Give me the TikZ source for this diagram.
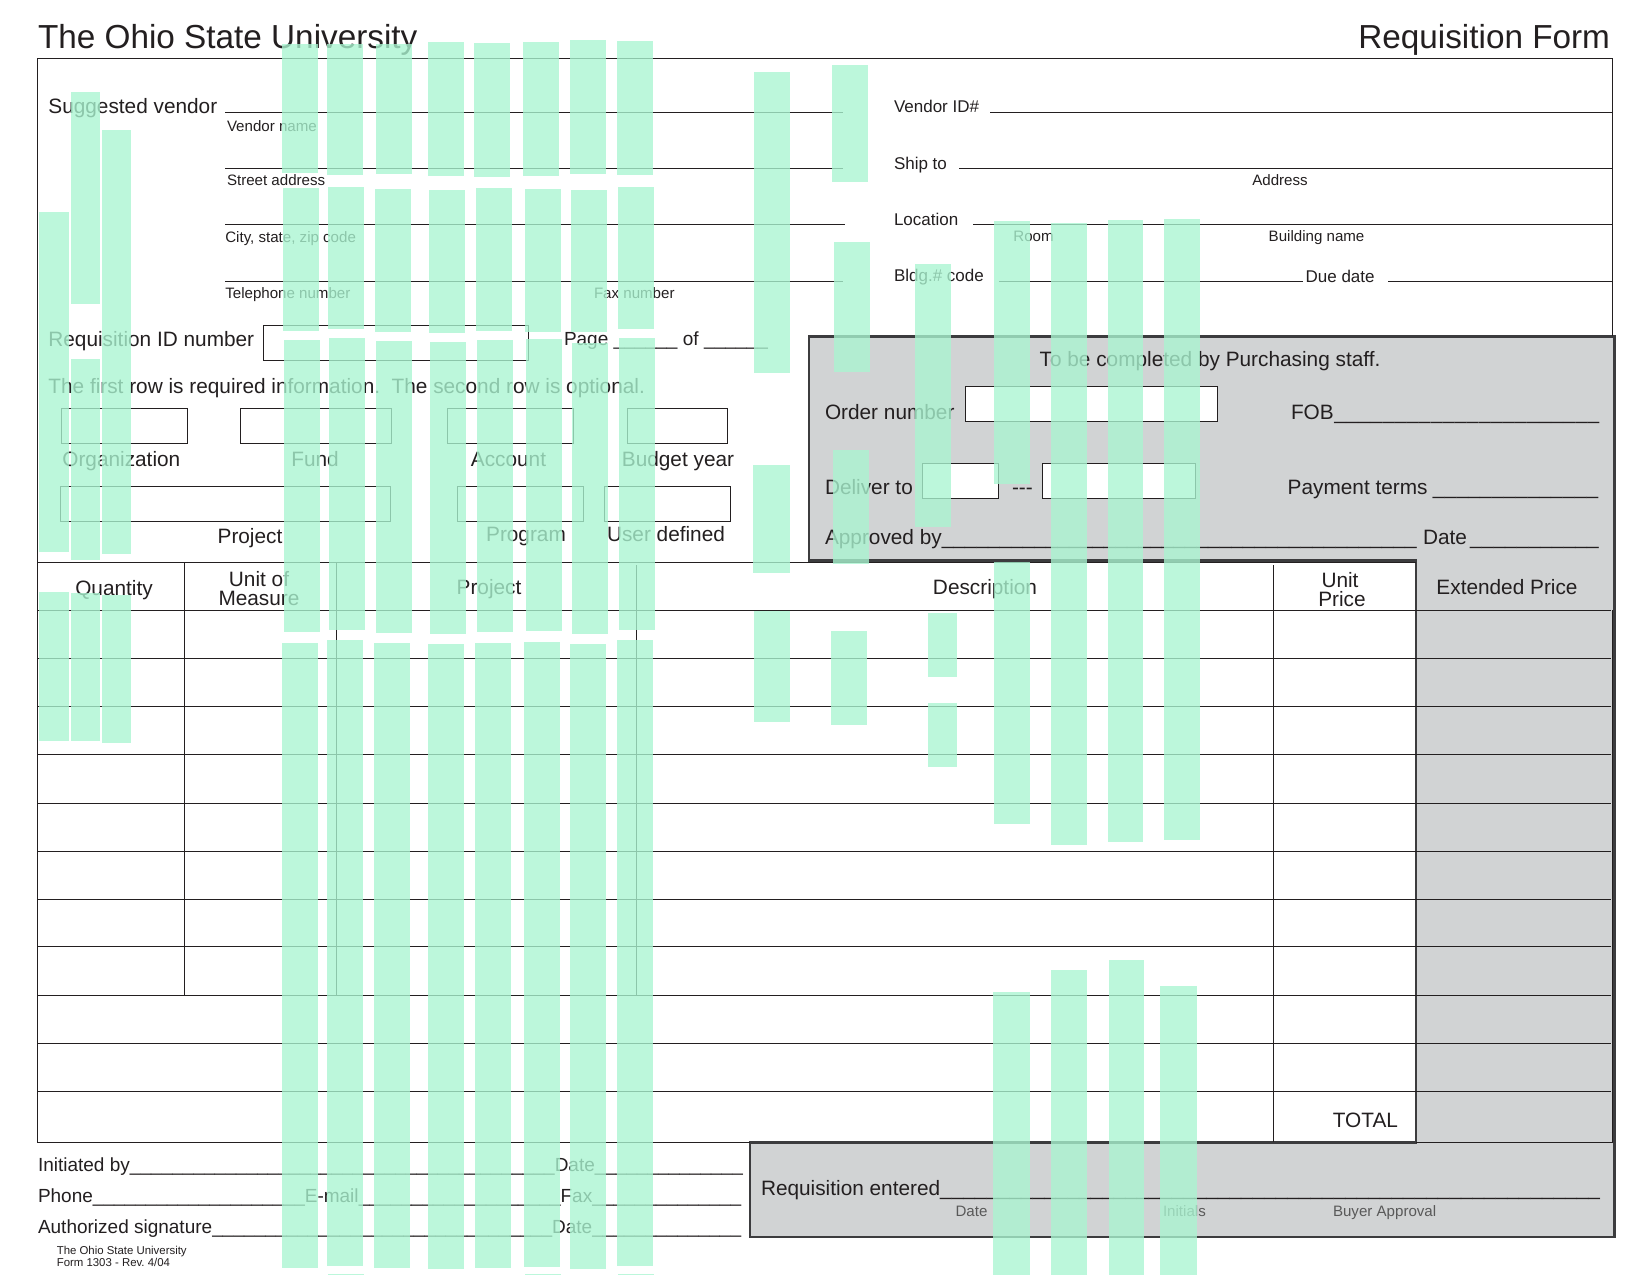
\documentclass[tikz,border=0pt]{standalone}
\usepackage{fontspec}
\setmainfont{Liberation Sans}
\frenchspacing
\definecolor{ink}{HTML}{231F20}
\definecolor{edge}{HTML}{3C3C3E}
\definecolor{panel}{HTML}{D1D3D4}
\definecolor{mint}{HTML}{AAF5D1}
\newcommand\us[1]{\xleaders\hbox{\_}\hskip#1pt\relax\null}
\tikzset{
  lab/.style={anchor=base west,inner sep=0pt,outer sep=0pt,text=ink,font=\fontsize{20.8}{24}\selectfont},
  labc/.style={lab,anchor=base},
  labe/.style={lab,anchor=base east},
  sig/.style={lab,font=\fontsize{19}{22}\selectfont},
  med/.style={lab,font=\fontsize{17}{20}\selectfont},
  small/.style={lab,font=\fontsize{15.1}{18}\selectfont},
  smallc/.style={small,anchor=base},
  faint/.style={small,text=black!65},
  foot/.style={lab,font=\fontsize{11.4}{13}\selectfont},
  titletext/.style={lab,font=\fontsize{33.3}{38}\selectfont},
  rule/.style={draw=ink,line width=1pt},
  thinrule/.style={draw=ink,line width=0.6pt},
  entry/.style={draw=ink,line width=0.9pt,fill=white},
  heavy/.style={draw=edge,line width=2.4pt},
  stripe/.style={fill=mint,fill opacity=0.78,draw=none}
}
\begin{document}
\begin{tikzpicture}[x=1pt,y=-1pt]
\useasboundingbox (0,0) rectangle (1649,1275);
\fill[white] (0,0) rectangle (1649,1275);
% grey panels
\fill[panel] (808.7,336.3) rectangle (1614.3,560.5);
\fill[panel] (1416,560.5) rectangle (1614.3,1142);
\fill[panel] (750,1142) rectangle (1614.3,1237);
% heavy outlines
\draw[heavy] (808.7,560.5) -- (808.7,336.3) -- (1614.3,336.3) -- (1614.3,1237) -- (750,1237) -- (750,1142.3) -- (1416,1142.3) -- (1416,560.5) -- cycle;
% outer frame
\draw[rule] (1612.5,336) -- (1612.5,58.4) -- (37.5,58.4) -- (37.5,1142.3) -- (750,1142.3);
\draw[rule] (1416,1142.3) -- (1612.5,1142.3);
\draw[rule] (1612.5,610) -- (1612.5,1142.3);
% vendor lines
\foreach \yy/\xe in {112/843.4,168/843.4,224.5/845,281/843.4} \draw[rule] (225,\yy) -- (\xe,\yy);
\draw[rule] (990,112) -- (1612.5,112);
\draw[rule] (959,168) -- (1612.5,168);
\draw[rule] (973,224.5) -- (1612.5,224.5);
\draw[rule] (999,281) -- (1303,281);
\draw[rule] (1388,281) -- (1612.5,281);
% entry boxes
\foreach \xa/\ya/\xb/\yb in {263.7/325/528/360.5,
  61.5/408.5/187.4/443,240.5/408.5/391.6/443,447.4/408.5/573/443,627/408.5/727/443,
  60.5/486.5/390.5/521.6,457.4/486.5/583.7/521.6,604.7/486.5/730.5/521.6,
  965.5/386.5/1217/421.6,922.4/463/998.7/498.4,1042/463/1195/498.4}
  \draw[entry] (\xa,\ya) rectangle (\xb,\yb);
% table
\draw[rule] (37.5,562.5) -- (1416,562.5);
\foreach \yy in {610,658,706,754,803,851,899,946,995,1043,1091} \draw[rule] (37.5,\yy) -- (1611,\yy);
\draw[thinrule] (184.7,562.4) -- (184.7,995);
\draw[thinrule] (336,563) -- (336,995);
\draw[thinrule] (636,565) -- (636,995);
\draw[thinrule] (1273,565) -- (1273,1142);
% titles
\node[titletext] at (38,48.5) {The Ohio State University};
\node[titletext,anchor=base east] at (1610,48.5) {Requisition Form};
% vendor block
\node[lab] at (48.4,113) {Suggested vendor};
\node[small] at (227,131.4) {Vendor name};
\node[small] at (227,185.7) {Street address};
\node[small] at (225.3,242) {City, state, zip code};
\node[small] at (225.3,298.4) {Telephone number};
\node[small] at (594,298.4) {Fax number};
\node[med] at (894,112) {Vendor ID\#};
\node[med] at (894,169.4) {Ship to};
\node[smallc] at (1280,185.7) {Address};
\node[med] at (894,225.7) {Location};
\node[small] at (1013.4,241) {Room};
\node[small] at (1268.7,241) {Building name};
\node[med] at (894,281) {Bldg.\# code};
\node[med] at (1305.6,282.5) {Due date};
% requisition block
\node[lab] at (48.4,346.5) {Requisition ID number};
\node[sig] at (564,345) {Page \us{64} of \us{64}};
\node[lab] at (48.4,393.5) {The first row is required information.\ \ The second row is optional.};
\node[labc] at (121.3,466.5) {Organization};
\node[labc] at (315,466.5) {Fund};
\node[labc] at (508.5,466.5) {Account};
\node[labc] at (678,466.5) {Budget year};
\node[labc] at (250,543) {Project};
\node[labc] at (526,541) {Program};
\node[labc] at (666,541) {User defined};
% table heads
\node[labc] at (114,595) {Quantity};
\node[labc] at (259,586) {Unit of};
\node[labc] at (259,605) {Measure};
\node[labc] at (489,594.5) {Project};
\node[labc] at (985,594) {Description};
\node[labc] at (1340,587) {Unit};
\node[labc] at (1342,606) {Price};
\node[labc] at (1507,594) {Extended Price};
\node[labe] at (1398,1127) {TOTAL};
% purchasing panel
\node[labc] at (1210,366) {To be completed by Purchasing staff.};
\node[lab] at (825,419) {Order number};
\node[lab] at (1291,419) {FOB\us{266}};
\node[lab] at (825,494) {Deliver to};
\node[lab] at (1012,494) {-{}-{}-};
\node[lab] at (1287.7,494) {Payment terms\hskip5pt\us{166}};
\node[lab] at (825,544) {Approved by\us{475}};
\node[lab] at (1423,544) {Date\hskip3pt\us{129}};
% signatures
\node[sig] at (38,1171) {Initiated by\us{425}Date\us{148}};
\node[sig] at (38,1202.7) {Phone\us{212}E-mail\us{202}Fax\us{149}};
\node[sig] at (38,1233) {Authorized signature\us{340}Date\us{149}};
\node[foot] at (56.8,1254) {The Ohio State University};
\node[foot] at (56.8,1266.7) {Form 1303 - Rev. 4/04};
% entered panel
\node[lab] at (761,1195.5) {Requisition entered\us{660}};
\node[faint] at (955.5,1216) {Date};
\node[faint] at (1163,1216) {Initials};
\node[faint] at (1333,1216) {Buyer Approval};
% mint stripes
\foreach \xa/\ya/\xb/\yb in {
  282/44/318/173,327/44/363/175,376/44/412/174,428/42/464/176,474/43/510/177,523/42/559/176,570/40/606/174,617/41/653/175,
  283/188/319/331,328/187/364/329,375/189/411/332,429/190/465/333,476/188/512/331,525/189/561/332,571/190/607/332,618/187/654/329,
  284/340/320/632,329/338/365/630,376/341/412/633,430/342/466/634,477/340/513/632,526/339/562/631,572/343/608/634,619/338/655/630,
  282/643/318/1268,327/640/363/1266,374/643/410/1268,428/643.5/464/1269,475/643/511/1268,524/641.5/560/1267,570/643.5/606/1269,617/640/653/1266,
  328/1274/364/1275,525/1274/561/1275,618/1274/654/1275,
  39/212/69/552,71/92/100/304,102/130/131/554,71/359/100/560,
  39/592/69/740.5,71/593/100/740.5,102/595/131/742.5,
  754/72/790/373,753/465/789.5/573,754/611/790/721.5,
  832/65/868/182,834/242/870/372,833/450/869/564,831/631/866.5/724.5,
  915/264/951/527,928/613/957/676.5,928/702.5/957/767,
  994/221/1030/484,994/562/1030/824,993/991.6/1030/1275,
  1050.5/223/1087/844.5,1050.5/969.5/1087/1275,
  1107.5/220/1143/841.5,1108.5/960/1143.5/1275,
  1164/219/1200/839.5,1160/986/1197/1275}
  \fill[stripe] (\xa,\ya) rectangle (\xb,\yb);
\end{tikzpicture}
\end{document}
